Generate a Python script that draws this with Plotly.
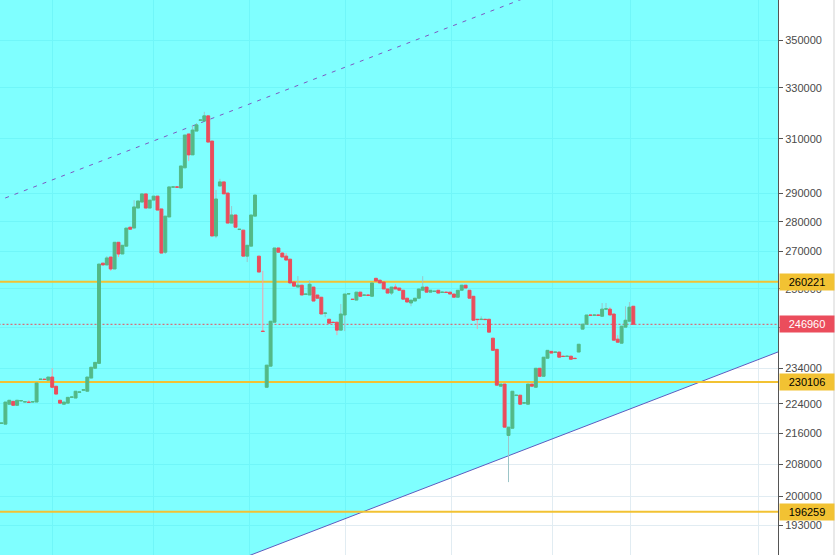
import math
import plotly.graph_objects as go

# ---- candle data (price values) ----
opens = [218700, 218500, 223900, 224700, 223600, 224800, 224500, 224500, 224500, 224500,
         230800, 230900, 230600, 231500, 228900, 225000, 223900, 224200, 225800, 225600,
         227200, 227800, 227500, 231200, 234000, 235400, 266200, 265600, 268200, 264300,
         273100, 269200, 271800, 278200, 277900, 284800, 286900, 289800, 284800, 287600,
         289000, 284500, 269800, 281700, 292200, 292300, 291900, 299200, 311900, 304000,
         313000, 317200, 316900, 318900, 309200, 275200, 292600, 294100, 290100, 279600,
         282400, 277400, 277200, 268500, 271800, 282000, 268500, 244900, 228600, 234600,
         247600, 271200, 269500, 268500, 267500, 260100, 258500, 259100, 256200, 256000,
         258500, 256000, 255300, 250300, 248500, 247600, 247600, 245200, 249800, 256300,
         254700, 254400, 256900, 255900, 256000, 255600, 261300, 260700, 260100, 257900,
         256600, 258500, 258200, 257500, 255000, 253500, 254100, 255000, 257500, 258500,
         256900, 257100, 257500, 256800, 256900, 256900, 256300, 255300, 257500, 259100,
         257500, 255600, 248500, 248400, 248500, 248500, 242800, 239500, 228900, 229500,
         215500, 217400, 226300, 226400, 224200, 223900, 229500, 228600, 234000, 231700,
         236900, 238900, 238600, 238700, 237500, 237400, 237500, 236900, 238700, 245500,
         247000, 249800, 249700, 249800, 249400, 251600, 251600, 250100, 242500, 241300,
         246100, 247900, 252500]
highs = [218800, 224500, 225000, 224700, 225000, 224900, 224600, 225000, 224600, 229800,
         230900, 230900, 231500, 234000, 228900, 225000, 224500, 225800, 225900, 227500,
         227300, 227900, 231500, 234300, 235700, 265900, 266200, 268500, 268200, 273100,
         273100, 272100, 277900, 278200, 287600, 287300, 289800, 289800, 287600, 289000,
         289000, 284500, 282000, 292300, 292300, 292300, 299900, 311500, 311900, 315400,
         316100, 317300, 320500, 318900, 309200, 291200, 295200, 294100, 290100, 285500,
         282400, 277500, 277200, 272100, 282400, 289400, 268500, 263700, 234900, 247900,
         271200, 271200, 269800, 269500, 267500, 260100, 262000, 259100, 256300, 260700,
         258500, 256000, 255300, 250400, 248500, 247600, 247600, 253200, 256300, 256400,
         254700, 256900, 256900, 256000, 256000, 259800, 261300, 260700, 260100, 257900,
         258500, 259400, 258200, 257500, 255000, 254400, 255000, 257900, 262000, 258500,
         257500, 257200, 257500, 256900, 256900, 256900, 256300, 257500, 259100, 259100,
         257500, 255600, 248500, 249400, 248500, 248500, 242800, 239500, 229500, 229500,
         217700, 227500, 226400, 226400, 224300, 229500, 229500, 234000, 234000, 237200,
         239200, 238900, 238700, 238700, 237500, 237500, 237500, 236900, 241000, 247000,
         249800, 249800, 249800, 249800, 253500, 253500, 252200, 250100, 243700, 246400,
         252500, 253800, 252500]
lows = [218700, 218500, 223900, 223600, 223600, 224800, 224500, 224200, 224500, 224500,
        230800, 230800, 230600, 228600, 226700, 224200, 223900, 224200, 225800, 225600,
        227200, 227800, 227500, 231200, 234000, 235400, 265600, 265600, 263700, 264300,
        268200, 269200, 271800, 277500, 277900, 284800, 286900, 284800, 284800, 287600,
        284100, 269500, 269200, 281700, 292200, 292200, 291900, 299200, 301700, 304000,
        313000, 317200, 316900, 308800, 275200, 274500, 292600, 289800, 279600, 279600,
        278200, 277400, 268500, 266550, 271800, 282000, 263300, 244800, 228600, 234600,
        247600, 269800, 268200, 267200, 259800, 258800, 258500, 256000, 256200, 256000,
        254100, 255000, 250100, 249100, 247300, 247500, 243700, 245200, 244900, 256300,
        254600, 254400, 255600, 255900, 255900, 255600, 260400, 259800, 257900, 256600,
        256000, 257900, 257500, 254700, 253800, 252500, 254100, 255000, 257500, 256900,
        256900, 257100, 256600, 256800, 256800, 256300, 255300, 255300, 257500, 258200,
        255000, 248200, 245500, 248400, 248400, 244600, 239200, 229200, 228900, 217700,
        203500, 217400, 226300, 223900, 224200, 223900, 228900, 228600, 231700, 231700,
        236900, 238400, 238600, 237200, 237400, 237400, 236600, 236800, 238700, 245500,
        247000, 249700, 249700, 249700, 249400, 251600, 249800, 242200, 241600, 241300,
        246100, 247900, 246960]
closes = [218800, 224500, 225000, 223600, 225000, 224900, 224600, 224400, 224600, 229800,
          230900, 230800, 231500, 228600, 226700, 224200, 224500, 225800, 225900, 227500,
          227300, 227900, 231500, 234300, 235700, 265900, 265600, 267900, 264300, 273100,
          269200, 272100, 277900, 277500, 285200, 287300, 289800, 284800, 287600, 289000,
          284100, 269500, 282000, 292300, 292300, 292200, 299900, 311500, 304000, 313400,
          315400, 317300, 318900, 308800, 275200, 288000, 294100, 289800, 279600, 282400,
          278200, 277500, 268500, 272100, 282400, 289400, 263300, 244800, 234900, 247900,
          271200, 269800, 268200, 267200, 259800, 258800, 259100, 256000, 256300, 259400,
          254100, 255000, 250100, 250400, 247300, 247500, 245200, 250100, 256300, 256400,
          254600, 256900, 255600, 256000, 255900, 259800, 260400, 259800, 257900, 256600,
          258500, 257900, 257500, 254700, 253800, 254400, 255000, 257900, 258500, 256900,
          257500, 257200, 256600, 256900, 256800, 256300, 255300, 257500, 259100, 258200,
          255000, 248200, 248400, 248500, 248400, 244600, 239200, 229200, 229500, 217700,
          217700, 227500, 226400, 223900, 224300, 229500, 228900, 234000, 231700, 237200,
          239200, 238400, 238700, 237200, 237400, 237500, 236600, 236800, 241000, 247000,
          249800, 249700, 249800, 249700, 251600, 251700, 249800, 242200, 241600, 246400,
          248200, 252200, 246960]

y_ticks = [350000, 330000, 310000, 290000, 280000, 270000, 258000, 246000,
           234000, 224000, 216000, 208000, 200000, 193000, 186000]
y_tick_text = ["350000", "330000", "310000", "290000", "280000", "270000", "258000", "",
               "234000", "224000", "216000", "208000", "200000", "193000", "186000"]
x_grid = [13.2, 39.1, 63.5, 88.3, 115.3, 141.2, 161.4, 194.2]
levels = [260221, 230106, 196259]
last_price = 246960
channel_x = [-51.7, 256.0]
channel_lower = [150400, 265100]
channel_upper = [261700, 461100]
y_range = [186100, 367600]
x_range = [-0.385, 199.1]

UP = "#53b987"
DOWN = "#eb4d5c"
UP_WICK = "#9cc5c8"
DOWN_WICK = "#f5a0aa"
LEVEL = "#f2c233"
GRID = "#e1ecf2"

idx = list(range(len(opens)))
body_hi = [max(o, c) for o, c in zip(opens, closes)]
body_lo = [min(o, c) for o, c in zip(opens, closes)]

fig = go.Figure()

# cyan zone above the lower channel line
fig.add_trace(go.Scatter(
    x=[channel_x[0], channel_x[1], channel_x[1], channel_x[0]],
    y=[channel_lower[0], channel_lower[1], 1e6, 1e6],
    fill="toself", fillcolor="rgba(0,255,255,0.5)", mode="lines",
    line=dict(width=0), hoverinfo="skip", showlegend=False))

# channel lines
fig.add_trace(go.Scatter(x=channel_x, y=channel_lower, mode="lines",
                         line=dict(color="#5c5cc0", width=1), hoverinfo="skip", showlegend=False))
fig.add_trace(go.Scatter(x=channel_x, y=channel_upper, mode="lines",
                         line=dict(color="#7e57c2", width=1, dash="4px,6px"),
                         hoverinfo="skip", showlegend=False))

# horizontal levels
for lv in levels:
    fig.add_trace(go.Scatter(x=[-10, 220], y=[lv, lv], mode="lines",
                             line=dict(color=LEVEL, width=2), hoverinfo="skip", showlegend=False))
fig.add_trace(go.Scatter(x=[-10, 220], y=[last_price, last_price], mode="lines",
                         line=dict(color=DOWN, width=1, dash="2px,2px"),
                         hoverinfo="skip", showlegend=False))

# wicks
for up, col in ((True, UP_WICK), (False, DOWN_WICK)):
    wx, wy = [], []
    for i, o, h, l, c in zip(idx, opens, highs, lows, closes):
        if (c >= o) == up:
            wx += [i, i, None]
            wy += [h, l, None]
    fig.add_trace(go.Scatter(x=wx, y=wy, mode="lines", line=dict(color=col, width=1),
                             hoverinfo="skip", showlegend=False))

# bodies on an overlaying subplot so they sit above the fill and wicks
fig.add_trace(go.Candlestick(
    x=idx, open=opens, high=body_hi, low=body_lo, close=closes,
    xaxis="x2", yaxis="y2",
    increasing=dict(line=dict(color=UP, width=1), fillcolor=UP),
    decreasing=dict(line=dict(color=DOWN, width=1), fillcolor=DOWN),
    whiskerwidth=0, showlegend=False))

annotations = []
for lv in levels:
    annotations.append(dict(
        x=1, xref="paper", xanchor="left", xshift=1,
        y=math.log10(lv), yref="y", yanchor="middle",
        text=str(lv), showarrow=False, bgcolor=LEVEL,
        font=dict(color="#000000", size=11), width=50, height=12, borderpad=2))
annotations.append(dict(
    x=1, xref="paper", xanchor="left", xshift=1,
    y=math.log10(last_price), yref="y", yanchor="middle",
    text=str(last_price), showarrow=False, bgcolor=DOWN,
    font=dict(color="#ffffff", size=11), width=50, height=12, borderpad=2))

log_range = [math.log10(y_range[0]), math.log10(y_range[1])]

fig.update_layout(
    width=835, height=555,
    margin=dict(l=0, r=57, t=0, b=0),
    paper_bgcolor="white", plot_bgcolor="white",
    font=dict(family="Liberation Sans, Arial, sans-serif", size=11, color="#4a4a4a"),
    boxgap=0.25, boxgroupgap=0,
    annotations=annotations,
    shapes=[dict(type="rect", xref="paper", yref="paper", x0=1 + 55 / 778, x1=1 + 60 / 778,
                 y0=0, y1=1, fillcolor="#e9e9e9", line=dict(width=0), layer="below")],
    xaxis=dict(range=x_range, showticklabels=False, tickvals=x_grid, ticks="",
               showgrid=True, gridcolor=GRID, zeroline=False, showline=False,
               rangeslider=dict(visible=False), fixedrange=True),
    xaxis2=dict(range=x_range, overlaying="x", visible=False, showgrid=False,
                zeroline=False, rangeslider=dict(visible=False), fixedrange=True),
    yaxis=dict(type="log", side="right", range=log_range,
               tickvals=y_ticks, ticktext=y_tick_text,
               ticks="outside", ticklen=4, tickcolor="#555555",
               showgrid=True, gridcolor=GRID, zeroline=False,
               showline=True, linecolor="#555555", linewidth=1,
               tickfont=dict(size=11, color="#4a4a4a")),
    yaxis2=dict(type="log", overlaying="y", side="right", range=log_range,
                visible=False, showgrid=False, zeroline=False),
)

fig.write_html("out.html", config={"displayModeBar": False},
               post_script="document.body.style.margin='0';")
